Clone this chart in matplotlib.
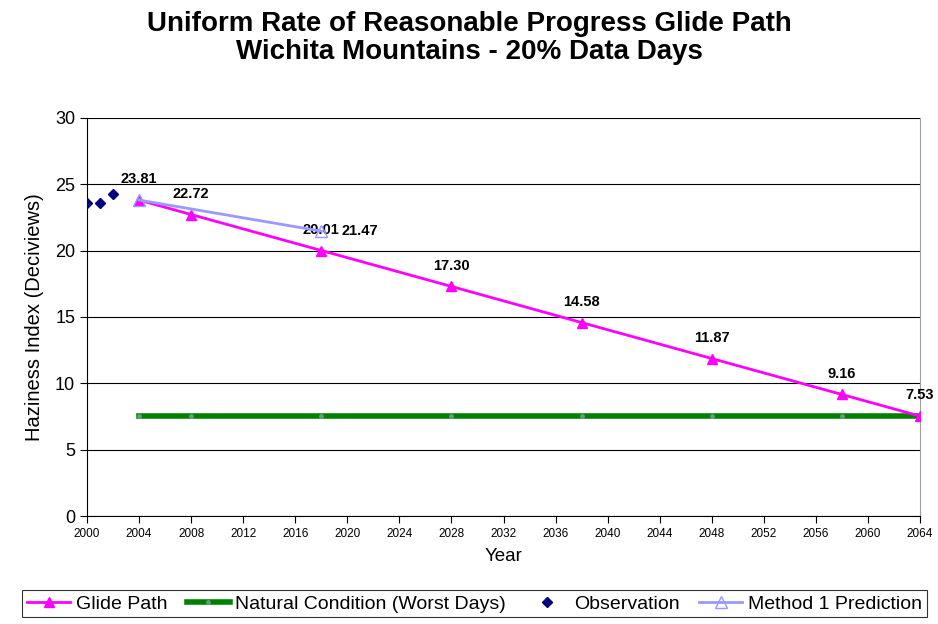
import matplotlib
matplotlib.use("Agg")
import matplotlib.pyplot as plt

# data
glide_years = [2004, 2008, 2018, 2028, 2038, 2048, 2058, 2064]
glide_vals = [23.81, 22.72, 20.01, 17.30, 14.58, 11.87, 9.16, 7.53]
natural_years = [2004, 2008, 2018, 2028, 2038, 2048, 2058, 2064]
natural_vals = [7.53, 7.53, 7.53, 7.53, 7.53, 7.53, 7.53, 7.53]
obs_years = [2000, 2001, 2002]
obs_vals = [23.6, 23.6, 24.3]
m1_years = [2004, 2018]
m1_vals = [23.81, 21.47]

plt.rcParams['font.family'] = ['Liberation Sans', 'DejaVu Sans']

fig = plt.figure(figsize=(9.38, 6.24), dpi=100)
ax = fig.add_axes([0.0928, 0.173, 0.888, 0.638])

ax.plot(natural_years, natural_vals, color='#008000', lw=4, marker='o', ms=2.5,
        mfc='#5f9f80', mec='#5f9f80', label='Natural Condition (Worst Days)', zorder=2)
ax.plot(glide_years, glide_vals, color='#FF00FF', lw=2, marker='^', ms=7,
        label='Glide Path', zorder=3)
ax.plot(obs_years, obs_vals, ls='none', marker='D', ms=5, color='#000080',
        label='Observation', zorder=4)
ax.plot(m1_years, m1_vals, color='#9999FF', lw=2, marker='^', ms=8, mfc='none',
        mec='#9999FF', label='Method 1 Prediction', zorder=4)

# data labels
for x, y in zip(glide_years, glide_vals):
    ax.annotate(f"{y:.2f}", (x, y), xytext=(0, 15), textcoords='offset points',
                ha='center', va='center', fontsize=10.5, fontweight='bold')
ax.annotate(f"{m1_vals[1]:.2f}", (m1_years[1], m1_vals[1]), xytext=(28, 0),
            textcoords='offset points', ha='center', va='center',
            fontsize=10.5, fontweight='bold')

ax.set_xlim(2000, 2064)
ax.set_ylim(0, 30)
ax.set_xticks(range(2000, 2065, 4))
ax.set_yticks(range(0, 31, 5))
ax.tick_params(axis='x', labelsize=8.5, direction='out', length=5)
ax.tick_params(axis='y', labelsize=13, direction='out', length=5)
ax.yaxis.grid(True, color='#000000', lw=0.8)
ax.set_axisbelow(True)
ax.spines['top'].set_visible(False)
ax.spines['right'].set_color('#a0a0a0')
ax.set_xlabel('Year', fontsize=13.5, labelpad=6)
ax.set_ylabel('Haziness Index (Deciviews)', fontsize=14.5, labelpad=8)

fig.suptitle('Uniform Rate of Reasonable Progress Glide Path\nWichita Mountains - 20% Data Days',
             fontsize=20, fontweight='bold', y=0.982, linespacing=1.1)

handles, labels = ax.get_legend_handles_labels()
order = [1, 0, 2, 3]
leg = fig.legend([handles[i] for i in order], [labels[i] for i in order],
                 loc='lower center', bbox_to_anchor=(0.506, -0.005), ncol=4,
                 fontsize=14, frameon=True, fancybox=False, edgecolor='black',
                 handlelength=2.2, handletextpad=0.3, columnspacing=1.0,
                 borderpad=0.25)
leg.get_frame().set_linewidth(0.8)

fig.savefig('out.png', dpi=100)
